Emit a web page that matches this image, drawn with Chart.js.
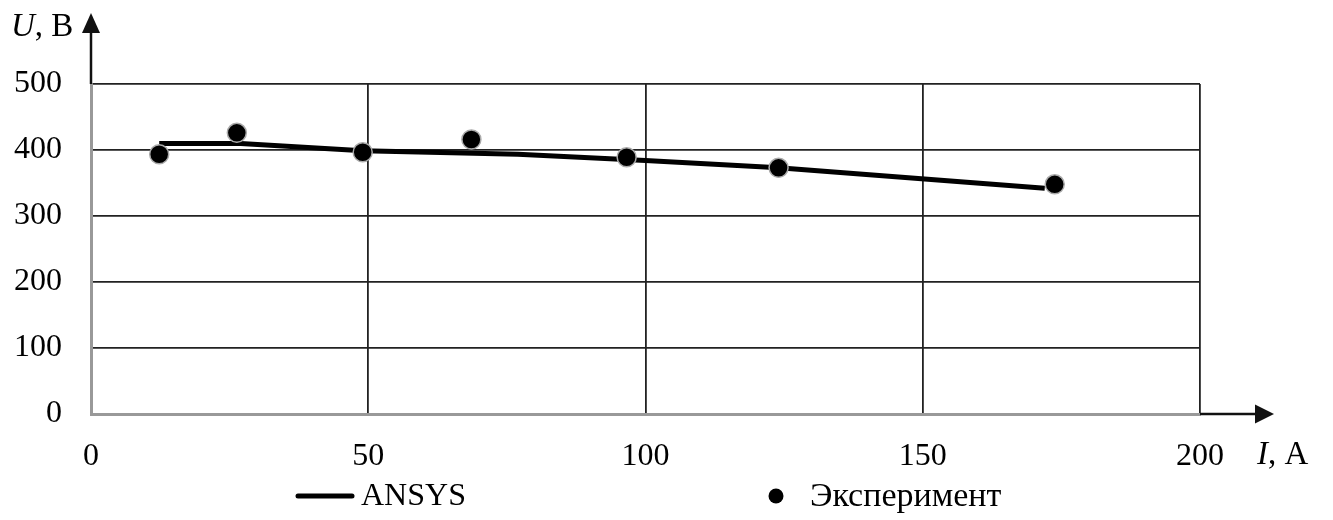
<!DOCTYPE html>
<html>
<head>
<meta charset="utf-8">
<script src="https://cdn.jsdelivr.net/npm/chart.js@4"></script>
<style>
  html, body { margin: 0; padding: 0; background: #fff; }
  #wrap { width: 1333px; height: 520px; }
</style>
</head>
<body>
<div id="wrap"><canvas id="chart" width="1333" height="520"></canvas></div>
<script>
// ANSYS calculation (line)
const ansysI = [12.3, 27, 49, 77, 100, 124, 172];
const ansysU = [410, 410, 399, 393.5, 384, 373, 342];

// experiment (dots)
const expI = [12.3, 26.3, 49, 68.6, 96.6, 124, 173.8];
const expU = [393.5, 426, 396.5, 416, 389, 373, 348];

const xTicks = [0, 50, 100, 150, 200];
const yTicks = [0, 100, 200, 300, 400, 500];

const FONT = '"Liberation Serif", "Times New Roman", serif';

// arrows, axis titles and legend
const decorations = {
  id: 'decorations',
  afterDraw(chart) {
    const ctx = chart.ctx;
    const { left, right, top, bottom } = chart.chartArea;
    ctx.save();
    ctx.fillStyle = '#111';
    ctx.strokeStyle = '#111';
    ctx.lineWidth = 2.5;

    // y arrow
    ctx.beginPath();
    ctx.moveTo(left, top);
    ctx.lineTo(left, 30);
    ctx.stroke();
    ctx.beginPath();
    ctx.moveTo(left, 13);
    ctx.lineTo(left - 9, 33);
    ctx.lineTo(left + 9, 33);
    ctx.closePath();
    ctx.fill();

    // x arrow
    ctx.beginPath();
    ctx.moveTo(right, bottom);
    ctx.lineTo(1257, bottom);
    ctx.stroke();
    ctx.beginPath();
    ctx.moveTo(1274, bottom);
    ctx.lineTo(1255, bottom - 9.5);
    ctx.lineTo(1255, bottom + 9.5);
    ctx.closePath();
    ctx.fill();

    // axis titles
    ctx.fillStyle = '#000';
    ctx.textBaseline = 'alphabetic';
    ctx.textAlign = 'left';
    ctx.font = 'italic 33px ' + FONT;
    ctx.fillText('U', 11, 36);
    let w = ctx.measureText('U').width;
    ctx.font = '33px ' + FONT;
    ctx.fillText(', В', 11 + w, 36);

    ctx.font = 'italic 33px ' + FONT;
    ctx.fillText('I', 1257, 464);
    w = ctx.measureText('I').width;
    ctx.font = '33px ' + FONT;
    ctx.fillText(', А', 1257 + w, 464);

    // legend
    const ly = 496;
    ctx.strokeStyle = '#000';
    ctx.lineWidth = 5;
    ctx.lineCap = 'round';
    ctx.beginPath();
    ctx.moveTo(298, ly);
    ctx.lineTo(352, ly);
    ctx.stroke();
    ctx.textBaseline = 'middle';
    ctx.font = '32px ' + FONT;
    ctx.fillText(chart.data.datasets[0].label, 361, ly + 1);

    ctx.beginPath();
    ctx.arc(776, ly, 7.5, 0, Math.PI * 2);
    ctx.fill();
    ctx.font = '34px ' + FONT;
    ctx.fillText(chart.data.datasets[1].label, 810, ly + 1);
    ctx.restore();
  }
};

new Chart(document.getElementById('chart'), {
  type: 'scatter',
  data: {
    datasets: [
      {
        label: 'ANSYS',
        data: ansysI.map((x, i) => ({ x: x, y: ansysU[i] })),
        showLine: true,
        borderColor: '#000',
        borderWidth: 5,
        pointRadius: 0,
        tension: 0,
        order: 2
      },
      {
        label: 'Эксперимент',
        data: expI.map((x, i) => ({ x: x, y: expU[i] })),
        backgroundColor: '#000',
        borderColor: '#aaa',
        borderWidth: 1.5,
        pointRadius: 9.5,
        order: 1
      }
    ]
  },
  options: {
    responsive: false,
    animation: false,
    layout: { padding: { top: 84, right: 133, bottom: 46, left: 0 } },
    scales: {
      x: {
        type: 'linear',
        min: 0,
        max: 200,
        afterFit: s => { s.height = 60; },
        afterBuildTicks: s => { s.ticks = xTicks.map(v => ({ value: v })); },
        ticks: { color: '#000', padding: 23, font: { family: FONT, size: 32 } },
        grid: { color: '#222', lineWidth: 1.8, drawTicks: false },
        border: { color: '#999', width: 3 }
      },
      y: {
        min: 0,
        max: 500,
        afterFit: s => { s.width = 91; },
        afterBuildTicks: s => { s.ticks = yTicks.map(v => ({ value: v })); },
        ticks: { color: '#000', padding: 29, font: { family: FONT, size: 32 } },
        grid: { color: '#222', lineWidth: 1.8, drawTicks: false },
        border: { color: '#999', width: 3 }
      }
    },
    plugins: {
      legend: { display: false },
      tooltip: { enabled: false }
    }
  },
  plugins: [decorations]
});
</script>
</body>
</html>
